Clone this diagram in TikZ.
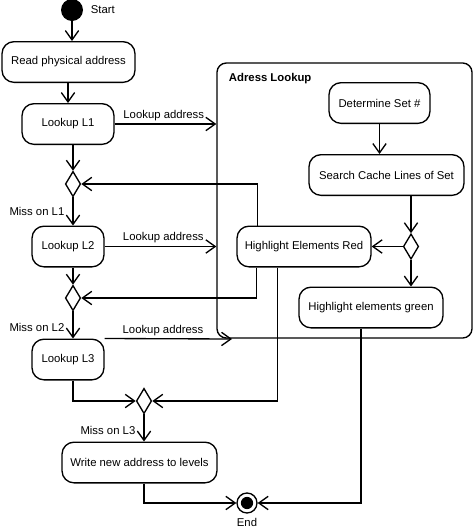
\documentclass[tikz,border=0pt]{standalone}
\usepackage{fontspec}
\setmainfont{Liberation Sans}
\usetikzlibrary{shapes.geometric,arrows.meta}

\begin{document}
\begin{tikzpicture}[x=0.75pt, y=-0.75pt,
    action/.style={draw, line width=1pt, rounded corners=9pt, minimum height=30.5pt, inner sep=2pt},
    choice/.style={draw, diamond, line width=1pt, minimum width=11.5pt, minimum height=19pt, inner sep=0pt},
    flow/.style={line width=1pt, -{Straight Barb[length=7pt,width=10pt,line width=1pt]}},
    tag/.style={inner sep=2pt}]
    \fontsize{8.5}{10}\selectfont
    \useasboundingbox (0,0) rectangle (474,529);

    % Start and end
    \node[circle, fill, minimum size=16.5pt, inner sep=0pt] (start) at (72,10) {};
    \node[anchor=west, tag] (startlbl) at (88,10) {Start};
    \node[circle, draw, line width=1pt, minimum size=15pt, inner sep=0pt] (end) at (247,503) {};
    \fill (end.center) circle (4.6pt);
    \node[tag] (endlbl) at (247,522) {End};

    % Adress Lookup group
    \node[draw, line width=1pt, rounded corners=7pt, minimum width=191.25pt, minimum height=206.25pt] (lookup) at (344.5,200.5) {};
    \node[anchor=west, tag, font=\bfseries] (lookuptitle) at (226,79) {Adress Lookup};

    % Main column
    \node[action, minimum width=99.75pt] (read) at (68.5,62) {Read physical address};
    \node[action, minimum width=69pt] (l1) at (68,124) {Lookup L1};
    \node[choice] (d1) at (73,184) {};
    \node[action, minimum width=54pt] (l2) at (68,246.5) {Lookup L2};
    \node[choice] (d2) at (73,298) {};
    \node[action, minimum width=54pt] (l3) at (68,359.5) {Lookup L3};
    \node[choice] (d4) at (144,401) {};
    \node[action, minimum width=116.25pt] (write) at (139.5,462.5) {Write new address to levels};

    % Inside the lookup
    \node[action, minimum width=75.75pt] (det) at (379.5,103) {Determine Set \#};
    \node[action, minimum width=116.25pt] (search) at (386.5,175) {Search Cache Lines of Set};
    \node[choice] (d3) at (411,246.5) {};
    \node[action, minimum width=100.5pt] (red) at (304,246.5) {Highlight Elements Red};
    \node[action, minimum width=108pt] (green) at (371,307.5) {Highlight elements green};
    \coordinate (l3end) at (232,339);

    % Main flow
    \draw[flow] (start) -- (start |- read.north);
    \draw[flow] (l1.north |- read.south) -- (l1.north);
    \draw[flow] (l1.south -| d1) -- (d1.north);
    \draw[flow] (d1.south) -- (d1.south |- l2.north) node[left, tag, pos=0.5, xshift=-4pt] {Miss on L1};
    \draw[flow] (l2.south -| d2) -- (d2.north);
    \draw[flow] (d2.south) -- (d2.south |- l3.north) node[left, tag, pos=0.6, xshift=-4pt] {Miss on L2};
    \draw[flow] (l3.south -| d2) |- (d4.west);
    \draw[flow] (d4.south) -- (d4.south |- write.north) node[left, tag, pos=0.6, xshift=-4pt] {Miss on L3};
    \draw[flow] (write.south -| d4) |- (end.west);

    % Lookup requests
    \draw[flow] (l1.east) -- (l1.east -| lookup.west) node[midway, above, tag, xshift=-1.3pt] {Lookup address};
    \draw[flow] (l2.east) -- (l2.east -| lookup.west) node[midway, above, tag, xshift=2.1pt] {Lookup address};
    \draw[flow] (l3.north east) -- (l3end) node[midway, above, tag, xshift=-4pt] {Lookup address};

    % Lookup flow
    \draw[flow] (det.south) -- (det.south |- search.north);
    \draw[flow] (search.south -| d3) -- (d3.north);
    \draw[flow] (d3.west) -- (red.east);
    \draw[flow] (d3.south) -- (d3.south |- green.north);

    % Results back
    \draw[flow] ([xshift=15.75pt]red.north west) |- (d1.east);
    \draw[flow] ([xshift=15pt]red.south west) |- (d2.east);
    \draw[flow] ([xshift=30.75pt]red.south west) |- (d4.east);
    \draw[flow] ([xshift=-7.5pt]green.south) |- (end.east);
\end{tikzpicture}
\end{document}
